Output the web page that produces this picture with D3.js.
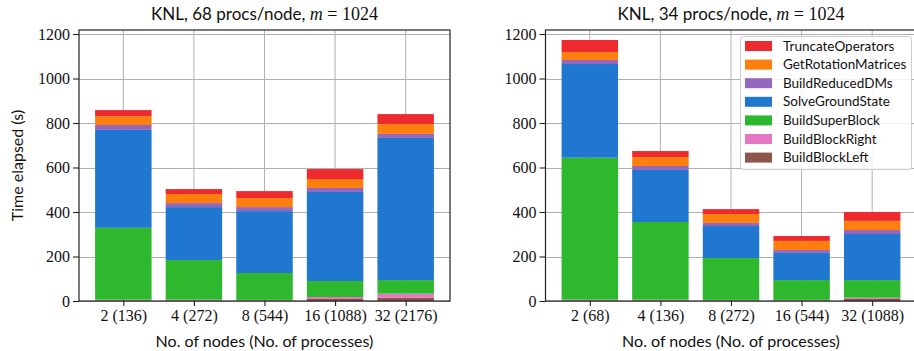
<!DOCTYPE html>
<html>
<head>
<meta charset="utf-8">
<script src="https://cdn.jsdelivr.net/npm/d3@7"></script>
<style>
  html, body { margin: 0; padding: 0; background: #fff; }
  svg { display: block; }
</style>
</head>
<body>
<svg id="chart" width="914" height="351"></svg>
<script>
const SANS = "Lato, 'Open Sans', sans-serif";
const SERIF = "'Liberation Serif', 'DejaVu Serif', serif";

// Phase names, bottom of the stack first
const phases = ["BuildBlockLeft", "BuildBlockRight", "BuildSuperBlock", "SolveGroundState",
                "BuildReducedDMs", "GetRotationMatrices", "TruncateOperators"];
const phaseColors = ["#8c564b", "#e377c2", "#2eb82e", "#1f77cf", "#9467bd", "#ff7f0e", "#ee2a2e"];

// 68 procs/node — time per phase (s)
const nodes68 = ["2 (136)", "4 (272)", "8 (544)", "16 (1088)", "32 (2176)"];
const p68BuildBlockLeft      = [2, 2, 2, 9, 15];
const p68BuildBlockRight     = [4, 4, 3, 9, 18];
const p68BuildSuperBlock     = [323, 178, 121, 72, 61];
const p68SolveGroundState    = [440, 238, 278, 400, 639];
const p68BuildReducedDMs     = [22, 18, 18, 18, 18];
const p68GetRotationMatrices = [40, 41, 41, 40, 45];
const p68TruncateOperators   = [27, 22, 31, 45, 44];

// 34 procs/node — time per phase (s)
const nodes34 = ["2 (68)", "4 (136)", "8 (272)", "16 (544)", "32 (1088)"];
const p34BuildBlockLeft      = [2, 2, 2, 2, 9];
const p34BuildBlockRight     = [4, 4, 3, 3, 6];
const p34BuildSuperBlock     = [638, 349, 188, 89, 79];
const p34SolveGroundState    = [421, 234, 144, 122, 207];
const p34BuildReducedDMs     = [18, 18, 14, 13, 18];
const p34GetRotationMatrices = [36, 40, 40, 41, 41];
const p34TruncateOperators   = [54, 27, 22, 22, 40];

const yTicks = [0, 200, 400, 600, 800, 1000, 1200];
const yMax = 1218;

const svg = d3.select("#chart");

function rows(cats, cols) {
  return cats.map((c, i) => {
    const r = { cat: c };
    phases.forEach((p, k) => { r[p] = cols[k][i]; });
    return r;
  });
}

function panel(opts) {
  const { x0, x1, y0, y1, cats, cols, title } = opts;
  const g = svg.append("g");
  const x = d3.scaleLinear().domain([-0.628, cats.length - 1 + 0.628]).range([x0, x1]);
  const y = d3.scaleLinear().domain([0, yMax]).range([y1, y0]);
  const barW = x(0.8) - x(0);

  // grid
  const grid = g.append("g").attr("stroke", "#b0b0b0").attr("stroke-width", 1);
  yTicks.forEach(t => grid.append("line")
    .attr("x1", x0).attr("x2", x1).attr("y1", Math.round(y(t)) + 0.5).attr("y2", Math.round(y(t)) + 0.5));
  cats.forEach((c, i) => grid.append("line")
    .attr("x1", x(i)).attr("x2", x(i)).attr("y1", y0).attr("y2", y1));

  // stacked bars
  const stacked = d3.stack().keys(phases)(rows(cats, cols));
  stacked.forEach((layer, k) => {
    g.append("g").attr("fill", phaseColors[k])
      .selectAll("rect").data(layer).join("rect")
      .attr("x", (d, i) => x(i) - barW / 2)
      .attr("width", barW)
      .attr("y", d => y(d[1]))
      .attr("height", d => y(d[0]) - y(d[1]));
  });

  // axes
  const xAxis = d3.axisBottom(x).tickValues(d3.range(cats.length))
    .tickFormat(i => cats[i]).tickSize(5).tickPadding(4);
  const yAxis = d3.axisLeft(y).tickValues(yTicks).tickFormat(d3.format("d"))
    .tickSize(6).tickPadding(3);
  const gx = g.append("g").attr("transform", `translate(0,${y1})`).call(xAxis);
  const gy = g.append("g").attr("transform", `translate(${x0},0)`).call(yAxis);
  [gx, gy].forEach(a => {
    a.attr("font-family", SERIF).attr("font-size", 16);
    a.select(".domain").remove();
    a.selectAll(".tick line").attr("stroke", "#222").attr("stroke-width", 1.1);
    a.selectAll(".tick text").attr("fill", "#111");
  });

  // frame
  g.append("rect").attr("x", x0).attr("y", y0).attr("width", x1 - x0).attr("height", y1 - y0)
    .attr("fill", "none").attr("stroke", "#222").attr("stroke-width", 1.2);

  // title with math part
  const cx = (x0 + x1) / 2;
  const t = g.append("text").attr("x", cx).attr("y", 20).attr("text-anchor", "middle")
    .attr("font-size", 17).attr("fill", "#111");
  t.append("tspan").attr("font-family", SANS).text(title + ", ");
  t.append("tspan").attr("font-family", SERIF).attr("font-style", "italic").attr("font-size", 18).text("m");
  t.append("tspan").attr("font-family", SERIF).attr("font-size", 18).text(" = 1024");

  g.append("text").attr("font-family", SANS).attr("x", cx).attr("y", 347)
    .attr("text-anchor", "middle").attr("font-size", 16).attr("fill", "#111")
    .text("No. of nodes (No. of processes)");

  return { x, y };
}

panel({ x0: 79, x1: 450, y0: 30, y1: 301, cats: nodes68, title: "KNL, 68 procs/node",
  cols: [p68BuildBlockLeft, p68BuildBlockRight, p68BuildSuperBlock, p68SolveGroundState,
         p68BuildReducedDMs, p68GetRotationMatrices, p68TruncateOperators] });
panel({ x0: 545.5, x1: 916.5, y0: 30, y1: 301, cats: nodes34, title: "KNL, 34 procs/node",
  cols: [p34BuildBlockLeft, p34BuildBlockRight, p34BuildSuperBlock, p34SolveGroundState,
         p34BuildReducedDMs, p34GetRotationMatrices, p34TruncateOperators] });

// y-axis label (left panel only)
svg.append("text").attr("font-family", SANS)
  .attr("transform", "translate(23,165.5) rotate(-90)")
  .attr("text-anchor", "middle").attr("font-size", 16).attr("fill", "#111")
  .text("Time elapsed (s)");

// legend, top entry = top of stack
const lg = svg.append("g");
lg.append("rect").attr("x", 740.5).attr("y", 36.5).attr("width", 171).attr("height", 133)
  .attr("rx", 3).attr("fill", "#fff").attr("fill-opacity", 0.85)
  .attr("stroke", "#cccccc").attr("stroke-width", 1);
const order = phases.map((p, k) => k).reverse();
order.forEach((k, j) => {
  const cy = 46 + j * 18.6;
  lg.append("rect").attr("x", 745).attr("y", cy - 5).attr("width", 27).attr("height", 10)
    .attr("fill", phaseColors[k]);
  lg.append("text").attr("font-family", SANS).attr("x", 783).attr("y", cy + 4.5)
    .attr("font-size", 13.5).attr("fill", "#111").text(phases[k]);
});
</script>
</body>
</html>
